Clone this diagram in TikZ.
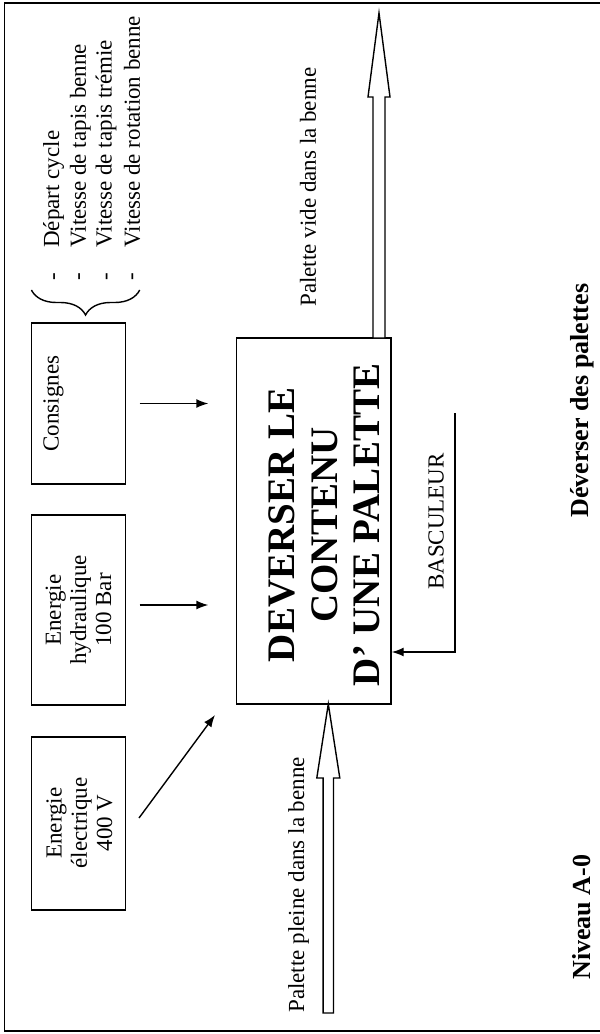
\documentclass[tikz,border=0pt]{standalone}
\usepackage{fontspec}
\setmainfont{Liberation Serif}
\usetikzlibrary{arrows.meta,decorations.pathreplacing,fit,calc}
\begin{document}
\begin{tikzpicture}[x=0.5pt,y=-0.5pt,
  box/.style={draw, line width=0.7pt, inner sep=0pt},
  lbl/.style={rotate=90, inner sep=0pt, font=\fontsize{11.5}{12.6}\selectfont},
  arr/.style={line width=0.7pt, -{Latex[length=6pt,width=4.5pt]}},
  hollow/.style={draw, line width=0.7pt, fill=white, line join=miter}]
\useasboundingbox (0,0) rectangle (600,1034);
% frame
\draw[line width=0.8pt] (600,3) -- (4.6,3) -- (4.6,1031) -- (600,1031);
% boxes
\coordinate (c1) at (31.4,323);  \coordinate (c2) at (125.5,484);
\node[box, fit=(c1)(c2)] (cons) {};
\coordinate (h1) at (31.4,515);  \coordinate (h2) at (125.5,705);
\node[box, fit=(h1)(h2)] (hyd) {};
\coordinate (e1) at (31.4,737);  \coordinate (e2) at (125.5,910);
\node[box, fit=(e1)(e2)] (elec) {};
\coordinate (m1) at (236.5,338); \coordinate (m2) at (391,704);
\node[box, fit=(m1)(m2)] (main) {};
% box texts
\node[lbl] (tcons) at (53.6,403.5) {Consignes};
\node[lbl, align=center] (thyd) at (78.5,610) {Energie\\hydraulique\\100 Bar};
\node[lbl, align=center] (telec) at (79.5,823) {Energie\\électrique\\400 V};
\node[lbl, align=center, font=\bfseries\fontsize{19.5}{21.3}\selectfont] (tmain) at (324.5,525)
  {DEVERSER LE\\CONTENU\\D’ UNE PALETTE};
% list of settings
\node[lbl, anchor=west] (l1) at (53.6,248) {Départ cycle};
\node[lbl, anchor=west] (l2) at (80.4,248) {Vitesse de tapis benne};
\node[lbl, anchor=west] (l3) at (106,248) {Vitesse de tapis trémie};
\node[lbl, anchor=west] (l4) at (132,248) {Vitesse de rotation benne};
\node[lbl] (d1) at (56.6,277) {-};
\node[lbl] (d2) at (81.5,277) {-};
\node[lbl] (d3) at (109,277) {-};
\node[lbl] (d4) at (134.7,277) {-};
\coordinate (br1) at (139.7,290); \coordinate (br2) at (31.4,290);
\draw[line width=0.7pt, decorate, decoration={brace, amplitude=12.5pt}] (br1) -- (br2);
% input arrows
\draw[arr, shorten <=6.75pt, shorten >=13.75pt] (cons.east) -- (cons.east -| main.west);
\draw[arr, shorten <=6.75pt, shorten >=13.75pt] ([yshift=2.5pt]hyd.east) -- ([yshift=2.5pt]hyd.east -| main.west);
\coordinate (ea) at (139,818); \coordinate (eb) at (215,715);
\draw[arr] (ea) -- (eb);
% hollow arrows
\coordinate (tipin) at (328.3,704);
\draw[hollow] (tipin) -- (339.8,778) -- (333.5,778) -- (333.5,1013) -- (323.1,1013) -- (323.1,778) -- (316.8,778) -- cycle;
\coordinate (tipout) at (379,13);
\draw[hollow] (tipout) -- (390,97) -- (385,97) -- (385,338) -- (373,338) -- (373,97) -- (368,97) -- cycle;
\node[lbl, anchor=west] (tin) at (298.5,1013) {Palette pleine dans la benne};
\node[lbl, anchor=west] (tout) at (308,307) {Palette vide dans la benne};
% mechanism
\node[lbl] (tbasc) at (436,521.5) {BASCULEUR};
\coordinate (b0) at (455,413); \coordinate (b1) at (455,652);
\draw[arr] (b0) -- (b1) -- (b1 -| main.east);
% titles
\node[lbl, anchor=west, font=\bfseries\fontsize{13}{15}\selectfont] (title) at (582,518) {Déverser des palettes};
\node[lbl, anchor=west, font=\bfseries\fontsize{13}{15}\selectfont] (niv) at (582,980) {Niveau A-0};
\end{tikzpicture}
\end{document}
